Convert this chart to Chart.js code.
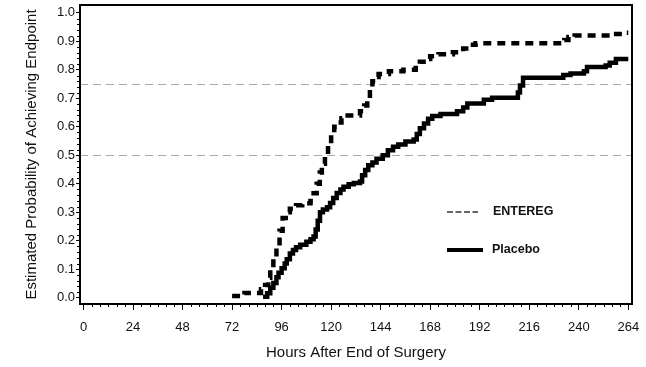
<!DOCTYPE html>
<html>
<head>
<meta charset="utf-8">
<script src="https://cdn.jsdelivr.net/npm/chart.js@4.4.1/dist/chart.umd.min.js"></script>
<style>
  html, body { margin: 0; padding: 0; background: #fff; }
  #wrap { position: relative; width: 646px; height: 367px; }
</style>
</head>
<body>
<div id="wrap"><canvas id="chart"></canvas></div>
<script>
  // cumulative probability of reaching the endpoint
  const enteregHours = [72, 78, 86, 88, 89.5, 90.5, 92, 93.5, 95, 96.5, 98, 100, 103, 106, 110, 111.5, 113, 114.5, 115.5, 117,
    118.5, 120, 121.5, 123, 125, 128, 134, 136, 137.5, 138.8, 140, 141.5, 143, 148, 155, 161, 163, 166, 168, 172,
    179, 184, 187, 190, 233, 235, 238, 256, 263, 264];
  const enteregProb = [0.006, 0.017, 0.03, 0.045, 0.07, 0.10, 0.135, 0.175, 0.235, 0.28, 0.30, 0.312, 0.325, 0.332, 0.34, 0.367, 0.40, 0.44, 0.47, 0.50,
    0.54, 0.58, 0.60, 0.615, 0.63, 0.64, 0.655, 0.675, 0.70, 0.73, 0.76, 0.775, 0.785, 0.795, 0.80, 0.815, 0.828, 0.838, 0.848, 0.855,
    0.862, 0.875, 0.888, 0.893, 0.905, 0.915, 0.92, 0.926, 0.93, 0.93];

  const placeboHours = [87, 89, 90.5, 92, 93.5, 94.5, 96, 97.5, 98.5, 100, 101.5, 103, 105, 108, 110, 111.5, 112.5, 113.5, 114.6, 116,
    118, 119.5, 121, 122.7, 124.5, 126, 128.5, 131, 134, 135, 136.5, 138, 140, 142, 145, 147.5, 150, 152.5, 156, 160,
    161.5, 163, 165, 167, 169, 173, 181, 184, 186, 194, 198, 210.5, 211.5, 213, 232.5, 236, 242.5, 244, 253, 255,
    258, 264];
  const placeboProb = [0.004, 0.016, 0.035, 0.052, 0.072, 0.088, 0.104, 0.12, 0.135, 0.155, 0.168, 0.177, 0.186, 0.197, 0.205, 0.215, 0.24, 0.27, 0.30, 0.31,
    0.318, 0.333, 0.35, 0.368, 0.38, 0.39, 0.398, 0.403, 0.408, 0.43, 0.448, 0.465, 0.475, 0.488, 0.50, 0.518, 0.53, 0.538, 0.548, 0.555,
    0.575, 0.595, 0.612, 0.628, 0.638, 0.645, 0.655, 0.668, 0.682, 0.695, 0.702, 0.72, 0.745, 0.772, 0.782, 0.787, 0.795, 0.81, 0.815, 0.825,
    0.838, 0.838];

  const xTicks = [0, 24, 48, 72, 96, 120, 144, 168, 192, 216, 240, 264];
  const yTicks = [0, 0.1, 0.2, 0.3, 0.4, 0.5, 0.6, 0.7, 0.8, 0.9, 1.0];
  const refLevels = [0.5, 0.75];
  const xMinorStep = 4;
  const yMinorStep = 0.02;

  const toPoints = (hours, probs) => hours.map((h, i) => ({ x: h, y: probs[i] }));

  const tickFont = { family: "'Liberation Sans', Arial, sans-serif", size: 13 };
  const titleFont = { family: "'Liberation Sans', Arial, sans-serif", size: 15 };

  const guidesAndFrame = {
    id: "guidesAndFrame",
    beforeDatasetsDraw(chart) {
      const { ctx, chartArea: a, scales: { y } } = chart;
      ctx.save();
      ctx.strokeStyle = "#a8a8a8";
      ctx.lineWidth = 1;
      ctx.setLineDash([8, 5]);
      refLevels.forEach((v) => {
        const py = Math.round(y.getPixelForValue(v)) + 0.5;
        ctx.beginPath();
        ctx.moveTo(a.left, py);
        ctx.lineTo(a.right, py);
        ctx.stroke();
      });
      ctx.restore();
    },
    afterDatasetsDraw(chart) {
      const { ctx, chartArea: a, scales: { x, y } } = chart;
      ctx.save();
      ctx.strokeStyle = "#000";
      ctx.lineWidth = 1;
      // minor ticks
      for (let h = 0; h <= xTicks[xTicks.length - 1]; h += xMinorStep) {
        if (h % 24 === 0) continue;
        const px = Math.round(x.getPixelForValue(h)) + 0.5;
        ctx.beginPath();
        ctx.moveTo(px, a.bottom);
        ctx.lineTo(px, a.bottom + 3);
        ctx.stroke();
      }
      for (let k = 0; k <= 50; k++) {
        if (k % 5 === 0) continue;
        const py = Math.round(y.getPixelForValue(k * yMinorStep)) + 0.5;
        ctx.beginPath();
        ctx.moveTo(a.left - 3, py);
        ctx.lineTo(a.left, py);
        ctx.stroke();
      }
      ctx.lineWidth = 2;
      ctx.strokeRect(a.left, a.top, a.right - a.left, a.bottom - a.top);
      ctx.restore();
    }
  };

  const insideLegend = {
    id: "insideLegend",
    afterDraw(chart) {
      const { ctx } = chart;
      const rows = [
        { y: 212, x1: 447, x2: 478, textX: 493, dash: [6, 2.5], width: 1.5, color: "#333" },
        { y: 250, x1: 447, x2: 483, textX: 492, dash: [], width: 4, color: "#000" }
      ];
      ctx.save();
      ctx.font = "bold 12.5px 'Liberation Sans', Arial, sans-serif";
      ctx.textBaseline = "middle";
      ctx.fillStyle = "#111";
      chart.data.datasets.forEach((ds, i) => {
        const r = rows[i];
        ctx.strokeStyle = r.color;
        ctx.lineWidth = r.width;
        ctx.setLineDash(r.dash);
        ctx.beginPath();
        ctx.moveTo(r.x1, r.y);
        ctx.lineTo(r.x2, r.y);
        ctx.stroke();
        ctx.fillText(ds.label, r.textX, r.y);
      });
      ctx.restore();
    }
  };

  new Chart(document.getElementById("chart"), {
    type: "line",
    data: {
      datasets: [
        {
          label: "ENTEREG",
          data: toPoints(enteregHours, enteregProb),
          borderColor: "#000",
          borderWidth: 4.5,
          borderDash: [8, 6],
          stepped: "before",
          pointRadius: 0,
          fill: false
        },
        {
          label: "Placebo",
          data: toPoints(placeboHours, placeboProb),
          borderColor: "#000",
          borderWidth: 4.5,
          stepped: "before",
          pointRadius: 0,
          fill: false
        }
      ]
    },
    options: {
      responsive: true,
      maintainAspectRatio: false,
      animation: false,
      layout: { padding: { left: 0, right: 14, top: 5, bottom: 0 } },
      plugins: { legend: { display: false }, tooltip: { enabled: false } },
      scales: {
        x: {
          type: "linear",
          min: -1.7,
          max: 265.8,
          afterBuildTicks: (s) => { s.ticks = xTicks.map((v) => ({ value: v })); },
          afterFit: (s) => { s.height = 63; s.paddingLeft = 0; s.paddingRight = 0; },
          border: { display: false },
          grid: { drawOnChartArea: false, drawTicks: true, tickLength: 6, tickColor: "#000", tickWidth: 1 },
          ticks: { color: "#111", font: tickFont, padding: 10, maxRotation: 0, autoSkip: false },
          title: {
            display: true,
            text: "Hours After End of Surgery",
            color: "#111",
            font: titleFont,
            padding: { top: 0, bottom: 5 }
          }
        },
        y: {
          type: "linear",
          min: -0.0218,
          max: 1.0274,
          afterBuildTicks: (s) => { s.ticks = yTicks.map((v) => ({ value: v })); },
          afterFit: (s) => { s.width = 80; s.paddingTop = 0; s.paddingBottom = 0; },
          border: { display: false },
          grid: { drawOnChartArea: false, drawTicks: true, tickLength: 4, tickColor: "#000", tickWidth: 1 },
          ticks: { color: "#111", font: tickFont, padding: 1, callback: (v) => Number(v).toFixed(1) },
          title: {
            display: true,
            text: "Estimated Probability of Achieving Endpoint",
            color: "#111",
            font: titleFont,
            padding: { top: 23, bottom: 0 }
          }
        }
      }
    },
    plugins: [guidesAndFrame, insideLegend]
  });
</script>
</body>
</html>
